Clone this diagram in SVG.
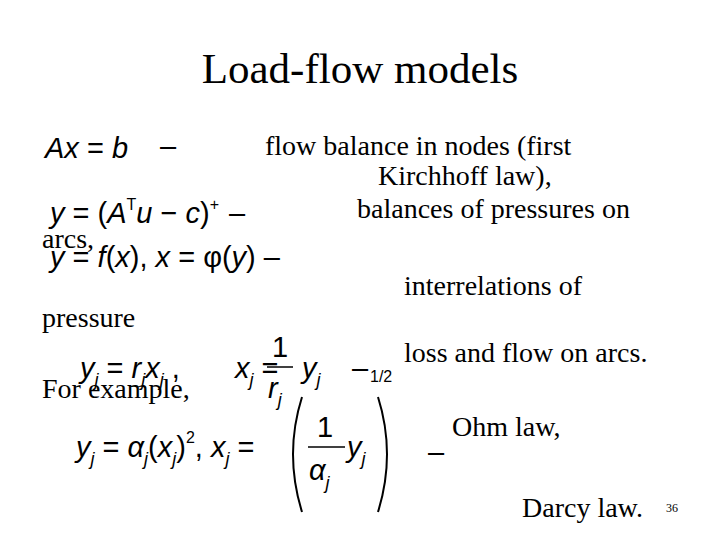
<svg xmlns="http://www.w3.org/2000/svg" width="720" height="540" viewBox="0 0 720 540">
<style>
.t{font-family:"Liberation Serif",serif;font-size:28px;fill:#000}
.m{font-family:"Liberation Sans",sans-serif;font-size:29px;font-style:italic;fill:#000}
.n{font-family:"Liberation Sans",sans-serif;font-size:29px;font-style:normal;fill:#000}
.s{font-size:18px}
.sn{font-family:"Liberation Sans",sans-serif;font-size:16px;font-style:normal}
</style>
<rect width="720" height="540" fill="#fff"/>
<text x="360" y="83" text-anchor="middle" style="font-family:'Liberation Serif',serif;font-size:43px">Load-flow models</text>
<text class="m" x="45" y="158">Ax<tspan class="n"> = </tspan>b</text>
<text class="n" x="160" y="156">–</text>
<text class="t" x="265" y="155">flow balance in nodes (first</text>
<text class="t" x="378" y="185">Kirchhoff  law),</text>
<text class="m" x="50" y="223">y<tspan class="n"> = (</tspan>A<tspan class="sn" dy="-13">T</tspan><tspan dy="13">u</tspan><tspan class="n"> − </tspan>c<tspan class="n">)</tspan><tspan class="sn" dy="-13">+</tspan><tspan class="n" dy="13" dx="10">–</tspan></text>
<text class="t" x="357" y="218">balances of pressures on</text>
<text class="t" x="42" y="248">arcs,</text>
<text class="m" x="50" y="267">y<tspan class="n"> = </tspan>f<tspan class="n">(</tspan>x<tspan class="n">),  </tspan>x<tspan class="n"> = φ(</tspan>y<tspan class="n">) –</tspan></text>
<text class="t" x="404" y="295">interrelations of</text>
<text class="t" x="42" y="327">pressure</text>
<text class="m" x="80" y="378">y<tspan class="s" dy="8">j</tspan><tspan class="n" dy="-8"> = </tspan>r<tspan class="s" dy="8">j</tspan><tspan dy="-8">x</tspan><tspan class="s" dy="8">j</tspan><tspan class="n" dy="-8"> ,</tspan></text>
<text class="m" x="235" y="378">x<tspan class="s" dy="8">j</tspan><tspan class="n" dy="-8"> =</tspan></text>
<text class="n" x="272" y="357">1</text>
<line x1="267" y1="367" x2="293" y2="367" stroke="#000" stroke-width="1.5"/>
<text class="m" x="268" y="398">r<tspan class="s" dy="8">j</tspan></text>
<text class="m" x="302" y="378">y<tspan class="s" dy="8">j</tspan></text>
<text class="n" x="352" y="378">–</text>
<text class="t" x="404" y="362">loss  and flow on arcs.</text>
<text class="t" x="42" y="398">For example,</text>
<text class="m" x="76" y="457">y<tspan class="s" dy="8">j</tspan><tspan class="n" dy="-8"> = </tspan>α<tspan class="s" dy="8">j</tspan><tspan class="n" dy="-8">(</tspan>x<tspan class="s" dy="8">j</tspan><tspan class="n" dy="-8">)</tspan><tspan class="sn" dy="-14">2</tspan><tspan class="n" dy="14">,  </tspan>x<tspan class="s" dy="8">j</tspan><tspan class="n" dy="-8"> =</tspan></text>
<path d="M302 397 Q284 454 302 512" fill="none" stroke="#000" stroke-width="2"/>
<path d="M378 397 Q396 454 378 512" fill="none" stroke="#000" stroke-width="2"/>
<text class="n" x="317" y="437">1</text>
<line x1="308" y1="447" x2="345" y2="447" stroke="#000" stroke-width="1.5"/>
<text class="m" x="309" y="480">α<tspan class="s" dy="9">j</tspan></text>
<text class="m" x="347" y="457">y<tspan class="s" dy="8">j</tspan></text>
<text class="sn" x="370" y="382">1/2</text>
<text class="n" x="428" y="462">–</text>
<text class="t" x="452" y="436">Ohm law,</text>
<text class="t" x="522" y="517">Darcy law.</text>
<text style="font-family:'Liberation Serif',serif;font-size:12px" x="666" y="512">36</text>
</svg>
